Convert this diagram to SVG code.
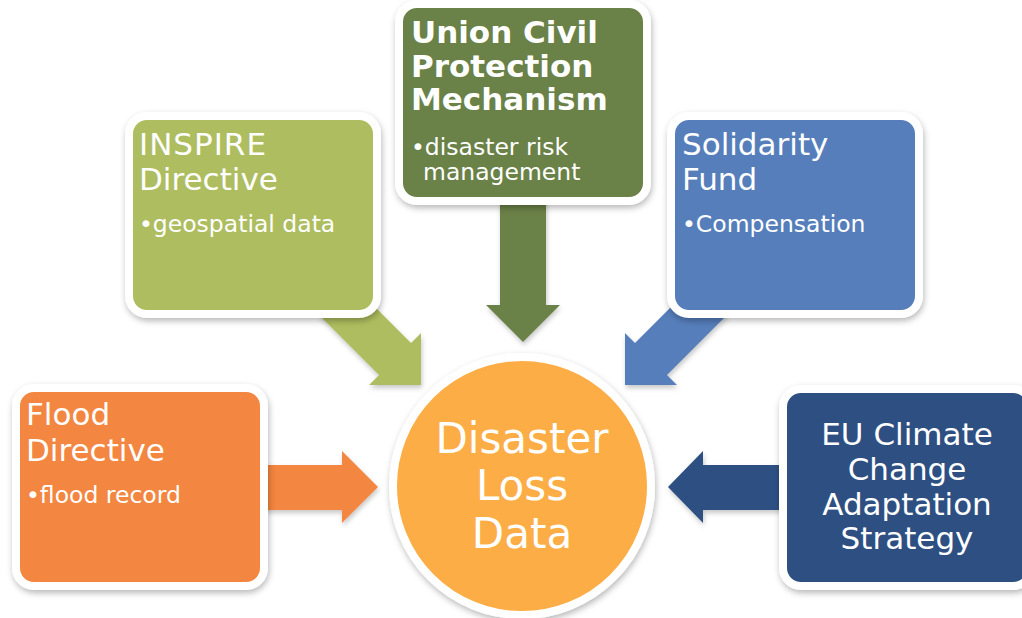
<svg xmlns="http://www.w3.org/2000/svg" width="1022" height="618" viewBox="0 0 1022 618">
<defs>
<filter id="sh" x="-20%" y="-20%" width="140%" height="140%">
<feDropShadow dx="1" dy="3" stdDeviation="3" flood-color="#000" flood-opacity="0.28"/>
</filter>
<filter id="sha" x="-20%" y="-20%" width="140%" height="140%">
<feDropShadow dx="1" dy="3" stdDeviation="2.5" flood-color="#000" flood-opacity="0.22"/>
</filter>
</defs>
<style>
.box{stroke:#fff;stroke-width:8;filter:url(#sh)}
.t{font-family:"DejaVu Sans",Verdana,sans-serif;fill:#fff}
.h{font-size:31px}
.hb{font-size:31px;font-weight:bold}
.b{font-size:23.5px}
.c{font-size:42px;text-anchor:middle}
.e{font-size:31px;text-anchor:middle}
.arr{filter:url(#sha)}
</style>
<rect width="1022" height="618" fill="#fff"/>
<g id="connectors">
<polygon class="arr" fill="#AEBD5E" points="351,283 411,343 421,333 421,385 369,385 379,375 319,315"/>
<polygon class="arr" fill="#6A8147" points="500,190 546,190 546,305 560,305 523,342 486,305 500,305"/>
<polygon class="arr" fill="#557EBB" points="695,283 635,343 625,333 625,385 677,385 667,375 727,315"/>
<polygon class="arr" fill="#F38640" points="250,465 342,465 342,451 378,487 342,523 342,510 250,510"/>
<polygon class="arr" fill="#2D4F82" points="795,465 703,465 703,451 668,487 703,523 703,510 795,510"/>
</g>
<g id="inspire">
<rect class="box" x="129" y="116" width="248" height="198" rx="18" fill="#AEBD5E"/>
<text class="t h" x="139" y="155" letter-spacing="1">INSPIRE</text>
<text class="t h" x="139" y="190">Directive</text>
<text class="t b" x="139" y="232">•geospatial data</text>
</g>
<g id="ucpm">
<rect class="box" x="399" y="4" width="248" height="197" rx="18" fill="#6A8147"/>
<text class="t hb" x="411" y="43">Union Civil</text>
<text class="t hb" x="411" y="77">Protection</text>
<text class="t hb" x="411" y="110">Mechanism</text>
<text class="t b" x="411" y="155">•disaster risk</text>
<text class="t b" x="423" y="180">management</text>
</g>
<g id="solidarity">
<rect class="box" x="671" y="116" width="248" height="198" rx="18" fill="#557EBB"/>
<text class="t h" x="682" y="155">Solidarity</text>
<text class="t h" x="682" y="190">Fund</text>
<text class="t b" x="682" y="232">•Compensation</text>
</g>
<g id="flood">
<rect class="box" x="16" y="388" width="248" height="198" rx="18" fill="#F38640"/>
<text class="t h" x="26" y="425">Flood</text>
<text class="t h" x="26" y="461">Directive</text>
<text class="t b" x="26" y="503">•flood record</text>
</g>
<g id="eucca">
<rect class="box" x="783" y="389" width="248" height="197" rx="18" fill="#2D4F82"/>
<text class="t e" x="907" y="445">EU Climate</text>
<text class="t e" x="907" y="480">Change</text>
<text class="t e" x="907" y="515">Adaptation</text>
<text class="t e" x="907" y="549">Strategy</text>
</g>
<g id="disaster-loss-data">
<circle class="box" cx="522" cy="486" r="129" fill="#FDAD44"/>
<text class="t c" x="522" y="453">Disaster</text>
<text class="t c" x="522" y="500">Loss</text>
<text class="t c" x="522" y="548">Data</text>
</g>
</svg>
